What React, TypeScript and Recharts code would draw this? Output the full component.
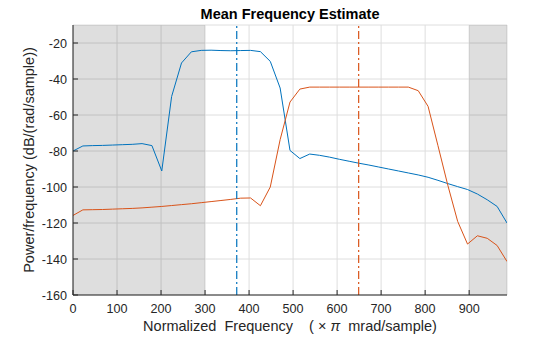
import {
  CartesianGrid,
  Line,
  LineChart,
  ReferenceArea,
  ReferenceLine,
  XAxis,
  YAxis,
} from "recharts";

// normalized frequency (x pi mrad/sample)
const freqs = [
  0, 22.4, 44.8, 67.2, 89.6, 112.0, 134.5, 156.9, 179.3, 201.7, 224.1, 246.5,
  268.9, 291.3, 313.7, 336.1, 358.5, 381.0, 403.4, 425.8, 448.2, 470.6, 493.0,
  515.4, 537.8, 560.2, 582.6, 605.0, 627.4, 649.8, 672.2, 694.6, 717.0, 739.4,
  761.8, 784.3, 806.7, 829.1, 851.5, 873.9, 896.3, 918.7, 941.1, 963.6, 986.0,
];

const blueDb = [
  -80.0, -77.2, -77.0, -76.9, -76.7, -76.5, -76.3, -75.9, -77.0, -91.1, -49.7,
  -31.1, -24.9, -24.1, -24.0, -24.2, -24.3, -24.2, -24.1, -24.8, -30.2, -45.0,
  -79.7, -84.2, -81.7, -82.4, -83.4, -84.6, -85.7, -86.8, -87.8, -88.9, -90.0,
  -91.1, -92.2, -93.3, -94.6, -96.3, -98.1, -99.8, -101.4, -103.9, -107.1,
  -110.8, -120.0,
];

const orangeDb = [
  -115.8, -112.7, -112.6, -112.5, -112.3, -112.1, -111.9, -111.6, -111.2,
  -110.8, -110.3, -109.8, -109.3, -108.7, -108.1, -107.5, -106.9, -106.2,
  -106.1, -110.4, -100.0, -73.7, -52.8, -45.6, -44.5, -44.5, -44.5, -44.5,
  -44.5, -44.5, -44.5, -44.5, -44.5, -44.5, -44.5, -46.5, -55.2, -77.0, -99.0,
  -119.1, -131.7, -127.1, -128.5, -132.5, -141.4,
];

const meanFreqs = [372, 649];
const shadedBands = [
  [0, 300],
  [900, 986],
];
const xTicks = [0, 100, 200, 300, 400, 500, 600, 700, 800, 900];
const yTicks = [-160, -140, -120, -100, -80, -60, -40, -20];
const xDomain = [0, 986];
const yDomain = [-160, -10];

const BLUE = "#0072BD";
const ORANGE = "#D95319";
const INK = "#262626";
const FONT = '"Liberation Sans", Arial, Helvetica, sans-serif';

const data = freqs.map((f, i) => ({ f, blue: blueDb[i], orange: orangeDb[i] }));

function BottomTick({ x, y, payload }: any) {
  return (
    <g>
      <line x1={x} y1={y} x2={x} y2={y - 5} stroke={INK} />
      <text x={x} y={y + 18} textAnchor="middle" fontSize={12.6} fill={INK} fontFamily={FONT}>
        {payload.value}
      </text>
    </g>
  );
}

function LeftTick({ x, y, payload }: any) {
  return (
    <g>
      <line x1={x} y1={y} x2={x + 5} y2={y} stroke={INK} />
      <text x={x - 6} y={y + 4.5} textAnchor="end" fontSize={12.6} fill={INK} fontFamily={FONT}>
        {payload.value}
      </text>
    </g>
  );
}

function TopTick({ x, y }: any) {
  return <line x1={x} y1={y} x2={x} y2={y + 5} stroke={INK} />;
}

function RightTick({ x, y }: any) {
  return <line x1={x} y1={y} x2={x - 5} y2={y} stroke={INK} />;
}

export default function App() {
  return (
    <div style={{ position: "absolute", left: 0, top: 0, width: 560, height: 337, background: "#fff" }}>
      <LineChart
        width={560}
        height={337}
        data={data}
        margin={{ top: 25, right: 53, bottom: 0, left: 0 }}
      >
        {shadedBands.map(([a, b]) => (
          <ReferenceArea key={a} x1={a} x2={b} fill="#000" fillOpacity={0.13} stroke="none" ifOverflow="hidden" />
        ))}
        <CartesianGrid stroke="#dedede" horizontal vertical />
        <XAxis
          dataKey="f"
          type="number"
          domain={xDomain}
          ticks={xTicks}
          allowDataOverflow
          height={42}
          tickSize={0}
          tickMargin={0}
          tickLine={false}
          tick={BottomTick}
          axisLine={{ stroke: INK }}
        />
        <XAxis
          xAxisId="top"
          orientation="top"
          type="number"
          domain={xDomain}
          ticks={xTicks}
          allowDataOverflow
          height={0}
          tickSize={0}
          tickMargin={0}
          tickLine={false}
          tick={TopTick}
          axisLine={{ stroke: INK }}
        />
        <YAxis
          type="number"
          domain={yDomain}
          ticks={yTicks}
          allowDataOverflow
          width={73}
          tickSize={0}
          tickMargin={0}
          tickLine={false}
          tick={LeftTick}
          axisLine={{ stroke: INK }}
        />
        <YAxis
          yAxisId="right"
          orientation="right"
          type="number"
          domain={yDomain}
          ticks={yTicks}
          allowDataOverflow
          width={0}
          tickSize={0}
          tickMargin={0}
          tickLine={false}
          tick={RightTick}
          axisLine={{ stroke: INK }}
        />
        <Line dataKey="blue" stroke={BLUE} strokeWidth={1} dot={false} isAnimationActive={false} />
        <Line dataKey="orange" stroke={ORANGE} strokeWidth={1} dot={false} isAnimationActive={false} />
        <ReferenceLine x={meanFreqs[0]} stroke={BLUE} strokeWidth={1.2} strokeDasharray="8 3 2 3" />
        <ReferenceLine x={meanFreqs[1]} stroke={ORANGE} strokeWidth={1.2} strokeDasharray="8 3 2 3" />
      </LineChart>
      <svg
        width={560}
        height={337}
        style={{ position: "absolute", left: 0, top: 0, pointerEvents: "none" }}
        fontFamily={FONT}
      >
        <text x={290} y={19} textAnchor="middle" fontSize={14.5} fontWeight="bold" fill="#000">
          Mean Frequency Estimate
        </text>
        <text x={290} y={330.5} textAnchor="middle" fontSize={14.5} fill={INK} style={{ whiteSpace: "pre" }}>
          {"Normalized  Frequency    ( × "}
          <tspan fontStyle="italic">{"π"}</tspan>
          {"  mrad/sample)"}
        </text>
        <text
          x={33.5}
          y={160}
          textAnchor="middle"
          fontSize={14.5}
          fill={INK}
          transform="rotate(-90 33.5 160)"
        >
          Power/frequency (dB/(rad/sample))
        </text>
      </svg>
    </div>
  );
}
